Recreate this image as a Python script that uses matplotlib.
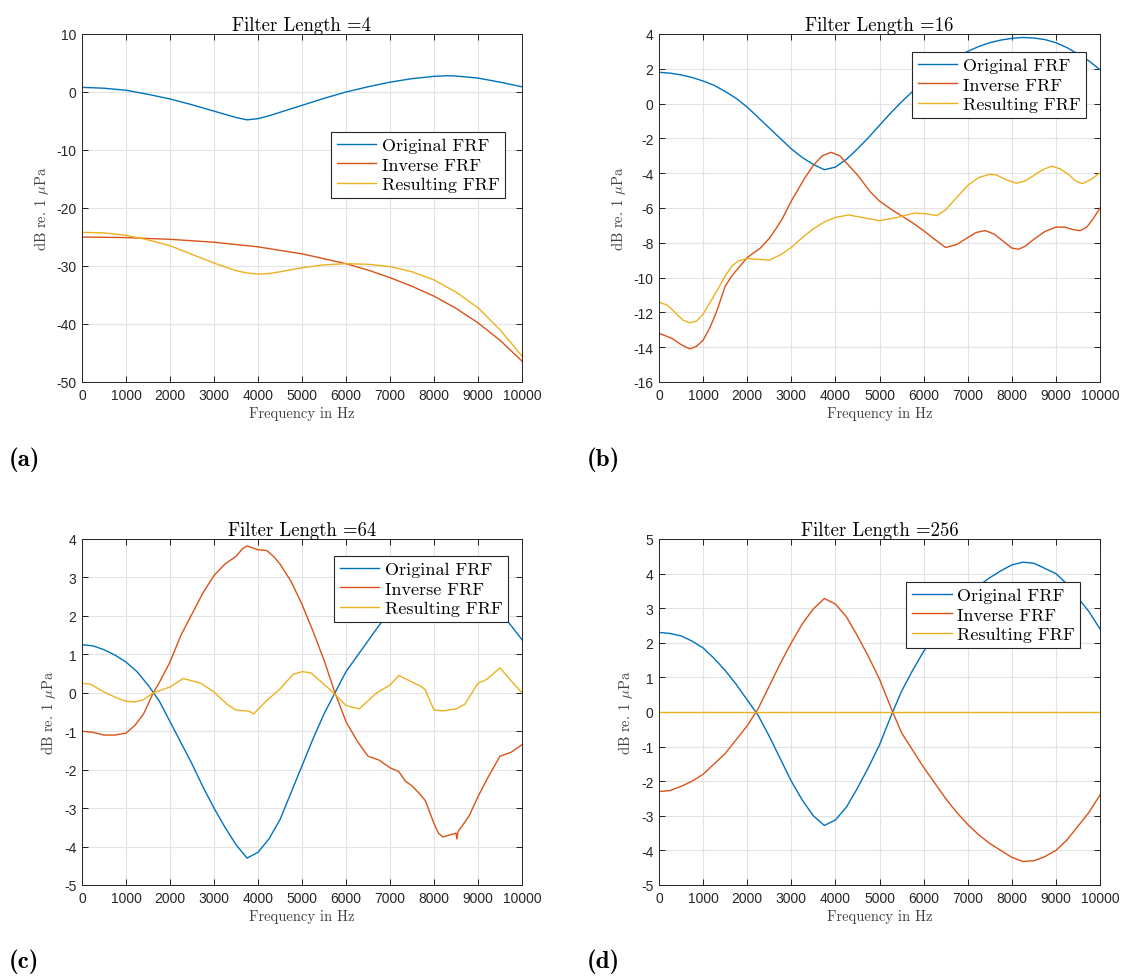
import matplotlib
matplotlib.use("Agg")
import matplotlib.pyplot as plt

plt.rcParams['mathtext.fontset'] = 'cm'
plt.rcParams['axes.unicode_minus'] = False

# colores por defecto de MATLAB
c_orig = '#0072BD'
c_inv = '#D95319'
c_res = '#EDB120'

#(a) Filter Length = 4
fa_orig = [0,500,1000,1500,2000,2500,3000,3250,3500,3750,4000,4250,4500,5000,5500,6000,6500,7000,7500,8000,8300,8500,9000,9500,10000]
a_orig = [0.8,0.65,0.3,-0.4,-1.2,-2.2,-3.3,-3.85,-4.4,-4.8,-4.6,-4.1,-3.5,-2.3,-1.1,0.0,0.9,1.7,2.3,2.7,2.8,2.75,2.4,1.7,0.9]
fa_inv = [0,1000,2000,3000,4000,5000,6000,6500,7000,7500,8000,8500,9000,9500,10000]
a_inv = [-25.0,-25.1,-25.4,-25.9,-26.7,-27.9,-29.6,-30.7,-32.0,-33.5,-35.2,-37.3,-39.8,-42.8,-46.4]
fa_res = [0,500,1000,1500,2000,2500,3000,3500,3750,4000,4250,4500,5000,5500,6000,6500,7000,7500,8000,8500,9000,9500,10000]
a_res = [-24.2,-24.3,-24.7,-25.5,-26.5,-28.0,-29.5,-30.8,-31.2,-31.4,-31.3,-31.0,-30.3,-29.8,-29.6,-29.7,-30.1,-31.0,-32.4,-34.5,-37.2,-41.0,-45.5]

#(b) Filter Length = 16
fb_orig = [0,250,500,750,1000,1250,1500,1750,2000,2250,2500,2750,3000,3250,3500,3750,4000,4250,4500,4750,5000,5250,5500,5750,6000,6250,6500,6750,7000,7250,7500,7750,8000,8250,8500,8750,9000,9250,9500,9750,10000]
b_orig = [1.8,1.75,1.65,1.5,1.3,1.05,0.7,0.3,-0.2,-0.8,-1.4,-2.0,-2.6,-3.1,-3.5,-3.8,-3.65,-3.2,-2.6,-1.95,-1.25,-0.55,0.1,0.7,1.25,1.8,2.25,2.65,3.0,3.28,3.5,3.65,3.75,3.8,3.77,3.68,3.5,3.22,2.85,2.45,1.95]
fb_inv = [0,300,500,700,850,1000,1150,1300,1500,1650,1800,2000,2300,2500,2650,2800,3000,3300,3500,3700,3900,4100,4300,4500,4800,5000,5250,5500,5750,6000,6250,6500,6750,7000,7200,7400,7600,7800,8000,8150,8300,8500,8750,9000,9200,9400,9550,9700,9850,10000]
b_inv = [-13.2,-13.5,-13.85,-14.1,-13.95,-13.6,-12.9,-12.0,-10.5,-9.9,-9.45,-8.85,-8.3,-7.75,-7.2,-6.6,-5.6,-4.3,-3.55,-3.0,-2.8,-3.0,-3.55,-4.1,-5.1,-5.6,-6.05,-6.45,-6.85,-7.3,-7.8,-8.27,-8.1,-7.7,-7.4,-7.3,-7.5,-7.9,-8.3,-8.37,-8.2,-7.8,-7.35,-7.1,-7.1,-7.25,-7.3,-7.1,-6.6,-6.0]
fb_res = [0,200,400,550,700,850,1000,1200,1350,1500,1650,1800,2000,2250,2500,2750,3000,3250,3500,3750,4000,4300,4600,5000,5400,5800,6050,6300,6500,6750,7000,7250,7500,7650,7850,8100,8300,8500,8700,8900,9100,9300,9450,9600,9800,10000]
b_res = [-11.4,-11.6,-12.1,-12.45,-12.6,-12.5,-12.1,-11.25,-10.6,-9.9,-9.35,-9.04,-8.9,-8.95,-9.0,-8.7,-8.27,-7.7,-7.2,-6.8,-6.54,-6.4,-6.54,-6.73,-6.54,-6.29,-6.33,-6.44,-6.1,-5.4,-4.7,-4.25,-4.06,-4.1,-4.35,-4.58,-4.45,-4.13,-3.8,-3.6,-3.75,-4.1,-4.45,-4.6,-4.35,-3.98]

#(c) Filter Length = 64
fc_orig = [0,250,500,750,1000,1250,1500,1750,2000,2250,2500,2750,3000,3250,3500,3750,4000,4250,4500,4750,5000,5250,5500,5750,6000,6250,6500,6750,7000,7250,7500,7750,8000,8250,8500,8750,9000,9250,9500,9750,10000]
c_orig_v = [1.25,1.22,1.12,0.98,0.8,0.55,0.2,-0.2,-0.75,-1.3,-1.85,-2.45,-3.0,-3.5,-3.95,-4.3,-4.15,-3.8,-3.3,-2.6,-1.9,-1.2,-0.55,0.0,0.55,0.95,1.35,1.75,2.1,2.45,2.75,3.0,3.2,3.3,3.25,3.1,2.85,2.5,2.1,1.75,1.38]
fc_inv = [0,250,500,750,1000,1200,1400,1620,1750,2000,2250,2500,2750,3000,3250,3500,3650,3750,3850,4000,4200,4350,4500,4750,5000,5250,5500,5750,6000,6250,6500,6750,7000,7200,7350,7500,7650,7800,7900,8000,8100,8200,8350,8500,8520,8550,8650,8800,9000,9250,9500,9750,10000]
c_inv_v = [-1.0,-1.03,-1.1,-1.1,-1.05,-0.85,-0.55,0.0,0.25,0.8,1.5,2.05,2.6,3.05,3.35,3.55,3.75,3.82,3.78,3.72,3.7,3.55,3.35,2.9,2.3,1.6,0.85,0.0,-0.75,-1.25,-1.65,-1.75,-1.95,-2.05,-2.3,-2.42,-2.6,-2.8,-3.1,-3.4,-3.65,-3.75,-3.7,-3.65,-3.8,-3.6,-3.45,-3.2,-2.7,-2.15,-1.65,-1.55,-1.35]
fc_res = [0,200,500,800,1000,1200,1400,1620,2000,2300,2700,3000,3300,3500,3800,3900,4200,4500,4800,5000,5200,5600,5800,6000,6300,6700,7000,7200,7500,7700,7800,8000,8200,8500,8700,9000,9200,9500,9800,10000]
c_res_v = [0.25,0.22,0.02,-0.14,-0.22,-0.24,-0.18,0.0,0.15,0.37,0.25,0.02,-0.3,-0.45,-0.48,-0.55,-0.2,0.1,0.48,0.55,0.52,0.12,-0.1,-0.33,-0.42,0.0,0.2,0.45,0.28,0.17,0.08,-0.45,-0.47,-0.42,-0.3,0.25,0.35,0.65,0.25,0.0]

#(d) Filter Length = 256
fd = [0,250,500,750,1000,1250,1500,1750,2000,2250,2500,2750,3000,3250,3500,3750,4000,4250,4500,4750,5000,5250,5500,5750,6000,6250,6500,6750,7000,7250,7500,7750,8000,8250,8500,8750,9000,9250,9500,9750,10000]
d_orig = [2.3,2.27,2.2,2.05,1.85,1.55,1.2,0.8,0.35,-0.1,-0.7,-1.35,-2.0,-2.55,-3.0,-3.28,-3.12,-2.75,-2.2,-1.6,-0.95,-0.15,0.6,1.2,1.75,2.25,2.7,3.05,3.35,3.65,3.88,4.08,4.25,4.33,4.3,4.15,4.0,3.7,3.3,2.9,2.4]
d_inv = [-2.3,-2.27,-2.15,-2.0,-1.8,-1.5,-1.2,-0.8,-0.4,0.1,0.75,1.4,2.0,2.55,2.98,3.28,3.12,2.75,2.2,1.6,0.95,0.15,-0.6,-1.1,-1.6,-2.05,-2.5,-2.9,-3.25,-3.55,-3.8,-4.0,-4.2,-4.32,-4.3,-4.18,-4.0,-3.7,-3.3,-2.9,-2.4]
fd_res = [0,10000]
d_res = [0,0]

titulos = ['Filter Length =4', 'Filter Length =16', 'Filter Length =64', 'Filter Length =256']
letras = ['(a)', '(b)', '(c)', '(d)']
nombres = ['Original FRF', 'Inverse FRF', 'Resulting FRF']
ylims = [(-50, 10), (-16, 4), (-5, 4), (-5, 5)]
yticks = [range(-50, 11, 10), range(-16, 5, 2), range(-5, 5, 1), range(-5, 6, 1)]
leg_pos = [(0.961, 0.718), (0.968, 0.948), (0.968, 0.951), (0.955, 0.876)]

datos = [
    [(fa_orig, a_orig), (fa_inv, a_inv), (fa_res, a_res)],
    [(fb_orig, b_orig), (fb_inv, b_inv), (fb_res, b_res)],
    [(fc_orig, c_orig_v), (fc_inv, c_inv_v), (fc_res, c_res_v)],
    [(fd, d_orig), (fd, d_inv), (fd_res, d_res)],
]

W, H = 1121, 979
fig = plt.figure(figsize=(W/100, H/100), dpi=100)

# posiciones en pixeles: (izq, der, arriba, abajo)
cajas = [(82, 522, 35, 383), (659, 1100, 35, 383), (82, 522, 540, 886), (659, 1100, 540, 886)]
letra_xy = [(9, 460), (587, 460), (9, 962), (587, 962)]

for i in range(4):
    l, r, t, b = cajas[i]
    ax = fig.add_axes([l/W, 1 - b/H, (r - l)/W, (b - t)/H])
    cols = [c_orig, c_inv, c_res]
    for j in range(3):
        xs, ys = datos[i][j]
        ax.plot(xs, ys, color=cols[j], linewidth=1.0, label=nombres[j])
    ax.set_xlim(0, 10000)
    ax.set_ylim(*ylims[i])
    ax.set_xticks(range(0, 10001, 1000))
    ax.set_yticks(list(yticks[i]))
    ax.grid(True, color='#e3e3e3', linewidth=0.8)
    ax.set_axisbelow(True)
    ax.tick_params(direction='in', top=True, right=True, length=4, width=0.6,
                   labelsize=10, labelcolor='#262626', pad=4)
    for lab in ax.get_xticklabels() + ax.get_yticklabels():
        lab.set_fontfamily('Liberation Sans')
    for s in ax.spines.values():
        s.set_linewidth(0.7)
        s.set_color('#262626')
    ax.set_title(titulos[i], fontfamily='cmr10', fontsize=13.5, pad=3)
    ax.set_xlabel('Frequency in Hz', fontfamily='cmr10', fontsize=10.5, color='#404040', labelpad=3)
    ax.set_ylabel(r'dB re. 1 $\mu$Pa', fontfamily='cmr10', fontsize=10.5, color='#404040', labelpad=4)
    leg = ax.legend(loc='upper right', bbox_to_anchor=leg_pos[i], frameon=True, fancybox=False,
                    framealpha=1, edgecolor='#262626', borderaxespad=0, handlelength=2.2,
                    handletextpad=0.3, labelspacing=0.22, borderpad=0.3,
                    prop={'family': 'cmr10', 'size': 13})
    leg.get_frame().set_linewidth(0.8)
    fig.text(letra_xy[i][0]/W, 1 - letra_xy[i][1]/H, letras[i], fontfamily='cmb10',
             fontsize=18, ha='left', va='center')

plt.savefig('out.png', dpi=100)
